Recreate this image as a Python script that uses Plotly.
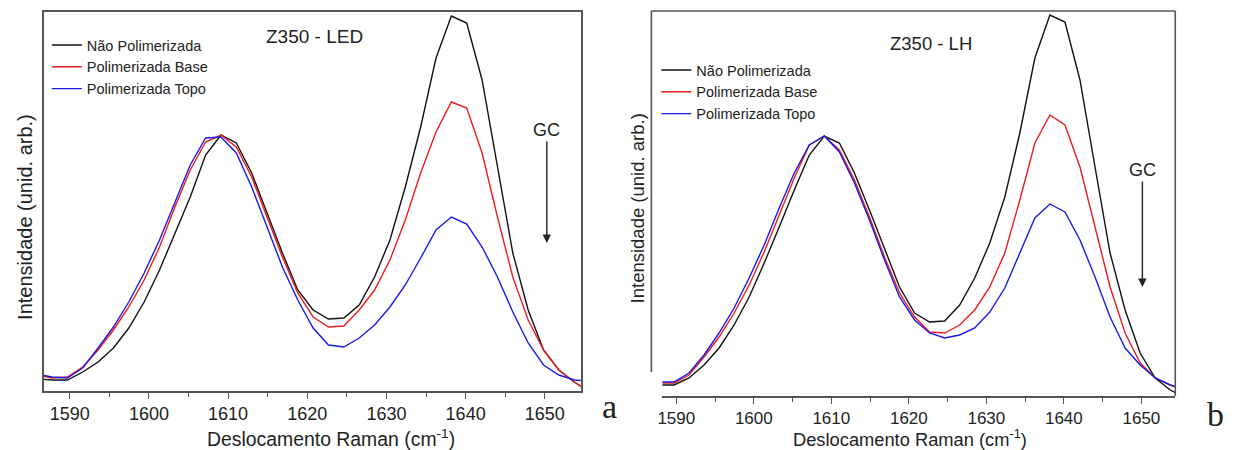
import plotly.graph_objects as go

# Raman shift sampling (cm-1)
raman_shift = [1585.82, 1587.76, 1589.70, 1591.64, 1593.58, 1595.52, 1597.46, 1599.40,
               1601.34, 1603.28, 1605.22, 1607.16, 1609.10, 1611.04, 1612.98, 1614.92,
               1616.86, 1618.80, 1620.74, 1622.68, 1624.62, 1626.56, 1628.50, 1630.44,
               1632.38, 1634.32, 1636.26, 1638.20, 1640.14, 1642.08, 1644.02, 1645.96,
               1647.90, 1649.84, 1651.78, 1653.72, 1655.66]

# Panel a: Z350 - LED (arbitrary intensity units)
led_nao = [12, 11, 11, 19, 29, 43, 63, 89, 121, 158, 194, 236, 256, 248, 218, 178, 138, 101,
           81, 72, 73, 86, 114, 151, 204, 264, 333, 375, 368, 311, 224, 138, 81, 41, 21, 9, -1]
led_base = [16, 13, 14, 24, 41, 61, 84, 111, 144, 184, 221, 249, 256, 244, 214, 174, 134, 98,
            74, 64, 65, 81, 101, 131, 171, 218, 259, 289, 283, 238, 174, 114, 71, 41, 21, 9, 0]
led_topo = [17, 14, 13, 23, 43, 64, 89, 118, 151, 189, 226, 253, 254, 238, 204, 164, 124, 91,
            63, 46, 44, 53, 66, 84, 106, 133, 161, 174, 167, 144, 114, 79, 48, 26, 16, 11, 10]

# Panel b: Z350 - LH (arbitrary intensity units)
lh_nao = [11, 11, 11, 18, 31, 48, 71, 99, 133, 169, 206, 241, 260, 253, 223, 186, 148, 109,
          83, 74, 75, 91, 118, 153, 199, 263, 338, 381, 374, 316, 229, 143, 86, 43, 18, 6, -2]
lh_base = [13, 13, 13, 21, 39, 59, 83, 111, 144, 181, 218, 251, 260, 246, 216, 179, 139, 103,
           79, 64, 63, 71, 86, 109, 143, 196, 253, 281, 271, 229, 169, 109, 63, 33, 18, 11, 6]
lh_topo = [14, 14, 14, 23, 41, 63, 88, 118, 151, 188, 223, 251, 260, 244, 213, 176, 136, 99,
           76, 63, 58, 61, 68, 84, 108, 143, 178, 192, 184, 156, 119, 79, 48, 31, 18, 11, 6]

series_names = ["Não Polimerizada", "Polimerizada Base", "Polimerizada Topo"]
series_colors = ["#111111", "#ee1c1c", "#1a1ae6"]
led_series = [led_nao, led_base, led_topo]
lh_series = [lh_nao, lh_base, lh_topo]

x_title = "Deslocamento Raman (cm<sup>-1</sup>)"
y_title = "Intensidade (unid. arb.)"

W, H = 1239, 450
def px(x):
    return x / W
def py(y):
    return 1 - y / H

SANS = "Arial, Liberation Sans, sans-serif"
SERIF = "Times New Roman, Liberation Serif, serif"
TXT = "#222222"
AX = "#555555"

fig = go.Figure()
for name, col, ya, yb in zip(series_names, series_colors, led_series, lh_series):
    fig.add_trace(go.Scatter(x=raman_shift, y=ya, mode="lines", name=name,
                             line=dict(color=col, width=1.4), xaxis="x", yaxis="y",
                             legend="legend"))
    fig.add_trace(go.Scatter(x=raman_shift, y=yb, mode="lines", name=name,
                             line=dict(color=col, width=1.4), xaxis="x2", yaxis="y2",
                             legend="legend2"))

def xaxis_style(tick_size):
    return dict(tick0=1590, dtick=10, ticks="outside", ticklen=6, tickwidth=1.3, tickcolor=AX,
                showgrid=False, zeroline=False, tickfont=dict(family=SANS, size=tick_size, color=TXT),
                minor=dict(dtick=5, ticks="outside", ticklen=4, tickwidth=1.3, tickcolor=AX,
                           showgrid=False),
                linecolor=AX, linewidth=1.6, showline=True)
ycommon = dict(showticklabels=False, ticks="", showgrid=False, zeroline=False)

fig.update_layout(
    width=W, height=H, margin=dict(l=0, r=0, t=0, b=0),
    paper_bgcolor="white", plot_bgcolor="white",
    xaxis=dict(domain=[px(39), px(578)], range=[1586.73, 1654.53], anchor="y", mirror=True,
               **xaxis_style(18)),
    yaxis=dict(domain=[py(391), py(12)], range=[0, 379], anchor="x", showline=True, mirror=True,
               linecolor=AX, linewidth=1.6, **ycommon),
    xaxis2=dict(domain=[px(660), px(1175)], range=[1588.2, 1654.37], anchor="y2", mirror=False,
                **xaxis_style(17)),
    yaxis2=dict(domain=[py(396), py(11)], range=[0, 385], anchor="x2", showline=False, **ycommon),
    legend=dict(x=px(42), xanchor="left", y=py(29), yanchor="top", bgcolor="rgba(0,0,0,0)",
                font=dict(family=SANS, size=14.5, color=TXT), tracegroupgap=0, itemwidth=30),
    legend2=dict(x=px(654), xanchor="left", y=py(54), yanchor="top", bgcolor="rgba(0,0,0,0)",
                 font=dict(family=SANS, size=14.5, color=TXT), tracegroupgap=0, itemwidth=30),
    showlegend=True,
)

# frame pieces of panel b
fr = dict(type="line", xref="paper", yref="paper", line=dict(color=AX, width=1.6))
fig.add_shape(x0=px(649), x1=px(1175), y0=py(11), y1=py(11), **fr)
fig.add_shape(x0=px(1175), x1=px(1175), y0=py(11), y1=py(396), **fr)
fig.add_shape(x0=px(649), x1=px(649), y0=py(11), y1=py(372), **fr)

def note(text, x, y, size, family=SANS, angle=0):
    fig.add_annotation(text=text, x=px(x), y=py(y), xref="paper", yref="paper",
                       xanchor="center", yanchor="middle", showarrow=False, textangle=angle,
                       font=dict(family=family, size=size, color=TXT))

note("Z350 - LED", 311, 37, 19)
note("Z350 - LH", 930, 43, 18.5)
note(x_title, 327, 438, 19.4)
note(x_title, 909, 438, 18.3)
note(y_title, 20, 217, 20, angle=-90)
note(y_title, 635, 208, 18.5, angle=-90)
note("a", 607, 406, 34, family=SERIF)
note("b", 1215, 414, 34, family=SERIF)

# "GC" labels with downward arrows (label sits at the arrow tail)
for xh, y_label, y_head in [(544, 130, 243), (1142, 170, 287)]:
    fig.add_annotation(text="GC", x=px(xh), y=py(y_head), xref="paper", yref="paper",
                       ax=0, ay=-(y_head - y_label), showarrow=True, arrowhead=2, arrowsize=1.2,
                       arrowwidth=1.4, arrowcolor=TXT, standoff=0, startstandoff=0,
                       font=dict(family=SANS, size=18, color=TXT))

fig.write_html("out.html", config={"displayModeBar": False},
               post_script="document.body.style.margin='0';")
